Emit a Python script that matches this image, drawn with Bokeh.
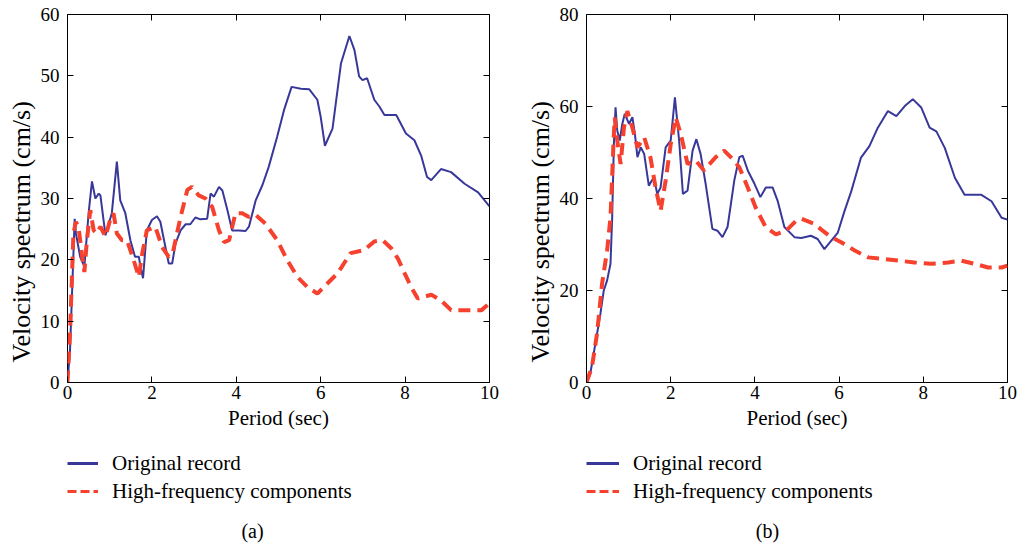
from bokeh.plotting import figure
from bokeh.layouts import row, column
from bokeh.models import (Legend, LegendItem, Label, LinearAxis, FixedTicker,
                          Range1d, CustomJSTickFormatter, Title)
from bokeh.embed import file_html
from bokeh.resources import INLINE

# ---------------- data ----------------
period_ticks = [0, 2, 4, 6, 8, 10]
a_yticks = [0, 10, 20, 30, 40, 50, 60]
b_yticks = [0, 20, 40, 60, 80]

a_orig_x = [0, 0.06, 0.17, 0.2, 0.3, 0.4, 0.5, 0.58, 0.66, 0.74, 0.78, 0.9, 1.05, 1.17, 1.25, 1.37,
            1.49, 1.6, 1.69, 1.73, 1.79, 1.88, 2.0, 2.12, 2.2, 2.32, 2.4, 2.48, 2.56, 2.68, 2.8, 2.91,
            3.03, 3.15, 3.31, 3.39, 3.47, 3.59, 3.67, 3.79, 3.9, 4.06, 4.22, 4.3, 4.46, 4.62, 4.77,
            4.97, 5.13, 5.31, 5.53, 5.73, 5.92, 6.0, 6.1, 6.28, 6.48, 6.68, 6.8, 6.91, 6.99, 7.1,
            7.27, 7.39, 7.51, 7.79, 8.02, 8.22, 8.38, 8.52, 8.62, 8.85, 9.09, 9.41, 9.73, 10.0]
a_orig_y = [0, 5.3, 26.7, 24.3, 20.5, 18.9, 27.6, 32.8, 30, 30.8, 30.5, 24, 27.6, 36, 29.7, 27.6,
            23.2, 20.5, 20.5, 18.9, 17, 24.8, 26.5, 27.1, 26.2, 22.1, 19.4, 19.4, 22.7, 24.8, 25.8, 25.8,
            26.9, 26.6, 26.7, 30.8, 30.3, 31.9, 31.3, 28.1, 24.8, 24.8, 24.7, 25.4, 29.7, 32.2, 35.2,
            40.1, 44.4, 48.2, 47.9, 47.8, 46.1, 43.3, 38.6, 41.4, 52.0, 56.5, 54.2, 49.9, 49.3, 49.6,
            46.1, 45, 43.6, 43.6, 40.6, 39.5, 37.0, 33.5, 33.0, 34.8, 34.3, 32.4, 31.0, 28.7]

a_high_x = [0, 0.06, 0.14, 0.2, 0.26, 0.34, 0.4, 0.46, 0.54, 0.62, 0.7, 0.78, 0.9, 1.01, 1.09, 1.17,
            1.29, 1.41, 1.57, 1.69, 1.77, 1.88, 2.08, 2.24, 2.4, 2.49, 2.68, 2.84, 2.95, 3.11, 3.27,
            3.43, 3.59, 3.71, 3.83, 3.98, 4.14, 4.3, 4.46, 4.69, 4.97, 5.21, 5.45, 5.68, 5.92, 6.08,
            6.4, 6.71, 7.03, 7.27, 7.47, 7.67, 7.83, 7.99, 8.14, 8.3, 8.62, 8.85, 9.09, 9.41, 9.81, 10.0]
a_high_y = [0, 8, 24.3, 26.2, 25.4, 21, 18, 23.2, 28.1, 24.8, 24.3, 25.4, 23.8, 26.5, 27.6, 24.3,
            23.2, 23.2, 19.9, 17.2, 21, 24.8, 25.4, 22.1, 20.5, 21, 27, 31.4, 31.9, 30.5, 30,
            28.6, 24.8, 22.9, 23.2, 27.6, 27.6, 27, 27.3, 25.9, 23.2, 19.9, 17.2, 15.6, 14.5, 15.6,
            17.8, 21.1, 21.6, 23, 23.2, 21.9, 20.2, 17.8, 15.6, 13.7, 14.3, 13.4, 11.8, 11.8, 11.8, 12.9]

b_orig_x = [0, 0.09, 0.21, 0.33, 0.41, 0.49, 0.57, 0.61, 0.65, 0.69, 0.73, 0.79, 0.85, 0.91, 1.01,
            1.09, 1.15, 1.21, 1.29, 1.37, 1.48, 1.6, 1.68, 1.76, 1.88, 2.0, 2.1, 2.2, 2.29, 2.4, 2.52,
            2.61, 2.71, 2.83, 2.99, 3.11, 3.23, 3.35, 3.51, 3.63, 3.71, 3.83, 3.99, 4.13, 4.26, 4.42,
            4.54, 4.7, 4.94, 5.1, 5.33, 5.49, 5.65, 5.81, 5.97, 6.13, 6.29, 6.52, 6.72, 6.92, 7.16,
            7.36, 7.56, 7.75, 7.95, 8.15, 8.31, 8.51, 8.75, 8.98, 9.38, 9.62, 9.86, 10.0]
b_orig_y = [0, 1.9, 8.4, 14.9, 20, 22.2, 25.8, 35.9, 51.8, 59.8, 54.8, 52.6, 56.2, 58.4, 56.2,
            57.7, 54, 49, 51.1, 49.7, 42.8, 44.6, 41, 42.4, 51.1, 52.6, 62, 52.6, 41, 41.7, 50.4,
            52.9, 49.7, 43.2, 33.4, 33, 31.6, 33.8, 43.9, 49, 49.3, 46.1, 43.2, 40.3, 42.4, 42.4,
            39.5, 33.8, 31.6, 31.4, 31.9, 31.2, 29, 30.8, 32.6, 37.3, 41.6, 48.9, 51.4, 55.4, 59,
            57.9, 60.1, 61.6, 59.8, 55.4, 54.6, 51.0, 44.5, 40.8, 40.8, 39.4, 35.8, 35.4]

b_high_x = [0, 0.13, 0.25, 0.37, 0.49, 0.57, 0.65, 0.67, 0.73, 0.81, 0.89, 0.97, 1.09, 1.21, 1.37,
            1.52, 1.64, 1.76, 1.88, 2.0, 2.12, 2.24, 2.4, 2.6, 2.79, 3.07, 3.27, 3.47, 3.63, 3.83,
            4.02, 4.26, 4.5, 4.74, 4.97, 5.1, 5.41, 5.61, 5.81, 6.05, 6.37, 6.69, 7.0, 7.4, 7.79,
            8.19, 8.59, 8.9, 9.22, 9.54, 9.86, 10.0]
b_high_y = [0, 3.4, 10.6, 21.5, 28.7, 35.9, 54, 57.6, 52.6, 47.5, 55.4, 59, 55.4, 51.1, 53.3,
            48.9, 42.4, 37.3, 43.9, 51.8, 57.6, 54, 47.5, 48.2, 46.1, 49, 50.4, 48.6, 46.8, 42.4,
            38, 33.7, 32.2, 33, 35.1, 35.6, 34.5, 33, 31.6, 30.5, 28.7, 27.2, 26.9, 26.5, 26.1,
            25.8, 26.1, 26.5, 25.8, 25, 25, 25.4]

series_labels = ["Original record", "High-frequency components"]
x_label = "Period (sec)"
y_label = "Velocity spectrum (cm/s)"

FONT = "Liberation Serif"
BLUE = "#38389a"
RED = "#f5412d"
BLUE_STYLE = dict(line_color=BLUE, line_width=2)
RED_STYLE = dict(line_color=RED, line_width=4, line_dash="12 7")
BLUE_KEY = dict(line_color=BLUE, line_width=3)
RED_KEY = dict(line_color=RED, line_width=3, line_dash="9 4")

PLOT_H = 440
LEG_H = 546 - PLOT_H
NAN = float("nan")


def make_panel(width, bl, br, ymax, yticks, xo, yo, xh, yh):
    p = figure(width=width, height=PLOT_H, x_range=Range1d(0, 10), y_range=Range1d(0, ymax),
               output_backend="svg", toolbar_location=None,
               min_border_left=bl, min_border_right=br, min_border_top=14,
               min_border_bottom=PLOT_H - 382)
    p.grid.visible = False
    p.background_fill_color = "white"
    p.border_fill_color = "white"
    p.outline_line_color = "black"
    p.outline_line_width = 1
    p.outline_line_alpha = 1

    p.line(xo, yo, **BLUE_STYLE)
    p.line(xh, yh, **RED_STYLE)

    xa = p.xaxis[0]
    xa.ticker = FixedTicker(ticks=period_ticks)
    xa.axis_line_color = None
    xa.major_tick_in = 6
    xa.major_tick_out = 0
    xa.minor_tick_in = 0
    xa.minor_tick_out = 0
    xa.major_tick_line_color = "black"
    xa.major_label_text_font = FONT
    xa.major_label_text_font_size = "19px"
    xa.major_label_text_color = "black"
    xa.major_label_standoff = 3
    xa.axis_label = x_label
    xa.axis_label_text_font = FONT
    xa.axis_label_text_font_size = "21px"
    xa.axis_label_text_font_style = "normal"
    xa.axis_label_text_color = "black"
    xa.axis_label_standoff = 4

    ya = p.yaxis[0]
    ya.ticker = FixedTicker(ticks=yticks)
    ya.axis_line_color = None
    ya.major_tick_in = 6
    ya.major_tick_out = 0
    ya.minor_tick_in = 0
    ya.minor_tick_out = 0
    ya.major_tick_line_color = "black"
    ya.major_label_text_font = FONT
    ya.major_label_text_font_size = "19px"
    ya.major_label_text_color = "black"
    ya.major_label_standoff = 8

    blank = CustomJSTickFormatter(code="return ''")
    top = LinearAxis(ticker=FixedTicker(ticks=period_ticks), formatter=blank,
                     major_label_text_font_size="0px", axis_line_color=None,
                     major_tick_in=6, major_tick_out=0, minor_tick_in=0, minor_tick_out=0,
                     major_label_standoff=0)
    right = LinearAxis(ticker=FixedTicker(ticks=yticks), formatter=blank,
                       major_label_text_font_size="0px", axis_line_color=None,
                       major_tick_in=6, major_tick_out=0, minor_tick_in=0, minor_tick_out=0,
                       major_label_standoff=0)
    p.add_layout(top, "above")
    p.add_layout(right, "right")

    p.add_layout(Title(text=y_label, align="left", offset=20, standoff=4,
                       text_font=FONT, text_font_size="26px", text_font_style="normal",
                       text_color="black"), "left")
    return p


def make_legend(width, bl, br, glyph_w, caption, caption_x):
    q = figure(width=width, height=LEG_H, x_range=Range1d(0, 1), y_range=Range1d(0, 1),
               output_backend="svg", toolbar_location=None,
               x_axis_location=None, y_axis_location=None,
               min_border_left=bl, min_border_right=br,
               min_border_top=0, min_border_bottom=0)
    q.grid.visible = False
    q.outline_line_color = None
    q.background_fill_color = "white"
    q.border_fill_color = "white"
    r1 = q.line([NAN], [NAN], **BLUE_KEY)
    r2 = q.line([NAN], [NAN], **RED_KEY)
    legend = Legend(items=[LegendItem(label=series_labels[0], renderers=[r1]),
                           LegendItem(label=series_labels[1], renderers=[r2])],
                    location=(0, 41), orientation="vertical",
                    border_line_color=None, background_fill_alpha=0,
                    padding=0, margin=0, spacing=0,
                    glyph_width=glyph_w, glyph_height=28, label_height=28,
                    label_standoff=14, label_text_font=FONT, label_text_font_size="21px",
                    label_text_color="black")
    q.add_layout(legend)
    q.add_layout(Label(x=caption_x, y=16, x_units="screen", y_units="screen", text=caption,
                       text_align="center", text_baseline="middle",
                       text_font=FONT, text_font_size="20px", text_color="black"))
    return q


pa = make_panel(511, 67, 22, 60, a_yticks, a_orig_x, a_orig_y, a_high_x, a_high_y)
pb = make_panel(512, 75, 16, 80, b_yticks, b_orig_x, b_orig_y, b_high_x, b_high_y)
la = make_legend(511, 67, 22, 31, "(a)", 185)
lb = make_legend(512, 75, 16, 33, "(b)", 181)

layout = row(column(pa, la, spacing=0), column(pb, lb, spacing=0), spacing=0)
open("out.html", "w").write(file_html(layout, INLINE))
